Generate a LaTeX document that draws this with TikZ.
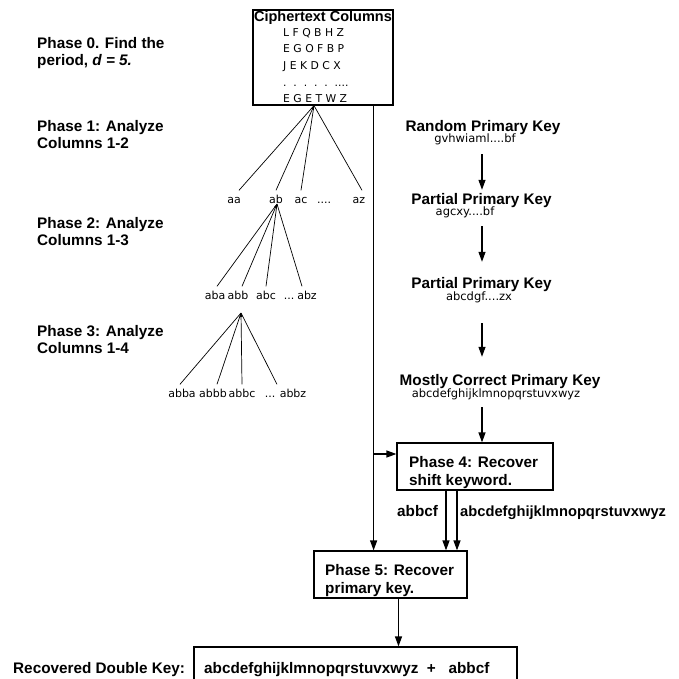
\documentclass[tikz,border=0pt]{standalone}
\usepackage{fontspec}
\setmainfont{Liberation Sans}
\newfontfamily\smfont{DejaVu Sans}
\usetikzlibrary{arrows.meta}
\begin{document}
\begin{tikzpicture}[x=1pt,y=-1pt,
  bt/.style={font=\fontsize{15.3}{18}\selectfont\bfseries, inner sep=0pt, text height=11pt, text depth=3pt},
  bttitle/.style={font=\fontsize{14.5}{17}\selectfont\bfseries, inner sep=0pt, text height=11pt, text depth=3pt},
  sm/.style={font=\smfont\fontsize{11.5}{14}\selectfont, inner sep=0pt, text height=9pt, text depth=3pt},
  cr/.style={font=\smfont\fontsize{10.8}{13}\selectfont, inner sep=0pt, anchor=base west},
  tr/.style={font=\smfont\fontsize{11}{13}\selectfont, inner sep=1.5pt, text height=11pt, text depth=2pt, anchor=base},
  box/.style={draw, line width=1.2pt, inner sep=0pt},
  arr/.style={line width=1.2pt, -{Triangle[length=10pt,width=7pt]}},
  tl/.style={line width=0.7pt},
  tip/.style={line width=0.7pt, -{Triangle[length=4pt,width=3pt]}}]

\useasboundingbox (0,0) rectangle (678,679);
\clip (0,0) rectangle (678,679);

% ciphertext box
\node[box, minimum width=140pt, minimum height=95pt] (cbox) at (323,57.5) {};
\node[bttitle, anchor=base] (ctitle) at (323,22) {Ciphertext Columns};
\node[cr] (row1) at (283,37) {L F Q B H Z};
\node[cr] (row2) at (283,53) {E G O F B P};
\node[cr] (row3) at (283,70) {J E K D C X};
\node[cr] (row4) at (283,87) {.\ \ .\ \ .\ \ .\ \ .\ \ ....};
\node[cr] (row5) at (283,103) {E G E T W Z};

% left phase labels
\node[bt, anchor=base west] (ph0a) at (37,49) {Phase 0. Find the};
\node[bt, anchor=base west] (ph0b) at (37,66) {period, \textit{d = 5.}};
\node[bt, anchor=base west] (ph1a) at (37,132) {Phase 1: Analyze};
\node[bt, anchor=base west] (ph1b) at (37,149) {Columns 1-2};
\node[bt, anchor=base west] (ph2a) at (37,228) {Phase 2: Analyze};
\node[bt, anchor=base west] (ph2b) at (37,245) {Columns 1-3};
\node[bt, anchor=base west] (ph3a) at (37,336) {Phase 3: Analyze};
\node[bt, anchor=base west] (ph3b) at (37,353) {Columns 1-4};

% tree level 1
\node[tr] (aa) at (234,203) {aa};
\node[tr] (ab) at (276,203) {ab};
\node[tr] (ac) at (301,203) {ac};
\node[tr] (dd1) at (324,203) {....};
\node[tr] (az) at (359,203) {az};
\coordinate (r0) at ([xshift=-9pt]cbox.south);
\draw[tl] ([xshift=5pt]aa.north) -- (r0);
\draw[tip] (ab.north) -- (r0);
\draw[tl] (ac.north) -- (r0);
\draw[tl] ([xshift=3pt]az.north) -- (r0);

% tree level 2
\node[tr] (aba) at (215,299) {aba};
\node[tr] (abb) at (238,299) {abb};
\node[tr] (abc) at (266,299) {abc};
\node[tr] (dd2) at (289,299) {...};
\node[tr] (abz) at (307,299) {abz};
\coordinate (r1) at ([xshift=1pt,yshift=-1pt]ab.base);
\draw[tl] ([xshift=2pt]aba.north) -- (r1);
\draw[tip] ([xshift=4pt]abb.north) -- (r1);
\draw[tl] (abc.north) -- (r1);
\draw[tl] ([xshift=-5pt]abz.north) -- (r1);

% tree level 3
\node[tr] (abba) at (182,397) {abba};
\node[tr] (abbb) at (213,397) {abbb};
\node[tr] (abbc) at (242,397) {abbc};
\node[tr] (dd3) at (270,397) {...};
\node[tr] (abbz) at (293,397) {abbz};
\coordinate (r2) at ([xshift=3pt,yshift=-14pt]abb.base);
\draw[tl] ([xshift=-2pt]abba.north) -- (r2);
\draw[tl] ([xshift=4pt]abbb.north) -- (r2);
\draw[tip] (abbc.north) -- (r2);
\draw[tl] ([xshift=-16pt]abbz.north) -- (r2);

% right column keys
\coordinate (colx) at (482,0);
\node[bt, anchor=base] (t1) at (483,132) {Random Primary Key};
\node[sm, anchor=base] (s1) at (475,143) {gvhwiaml....bf};
\node[bt, anchor=base] (t2) at (481.5,204) {Partial Primary Key};
\node[sm, anchor=base] (s2) at (465,215) {agcxy....bf};
\node[bt, anchor=base] (t3) at (481.5,288) {Partial Primary Key};
\node[sm, anchor=base] (s3) at (479,300) {abcdgf....zx};
\node[bt, anchor=base] (t4) at (500,385) {Mostly Correct Primary Key};
\node[sm, anchor=base] (s4) at (496,397) {abcdefghijklmnopqrstuvxwyz};

% phase 4 and 5 boxes
\node[box, minimum width=156pt, minimum height=47pt] (p4) at (475,466.5) {};
\node[bt, anchor=base west] (p4a) at (409,467) {Phase 4: Recover};
\node[bt, anchor=base west] (p4b) at (409,485) {shift keyword.};
\node[box, minimum width=153pt, minimum height=47pt] (p5) at (390.5,574.5) {};
\node[bt, anchor=base west] (p5a) at (325,575) {Phase 5: Recover};
\node[bt, anchor=base west] (p5b) at (325,593) {primary key.};

\node[bt, anchor=base west] (lab1) at (397,516) {abbcf};
\node[bt, anchor=base west, font=\fontsize{14.7}{18}\selectfont\bfseries] (lab2) at (460,516) {abcdefghijklmnopqrstuvxwyz};

% final
\node[bt, anchor=base west] (rdk) at (13,673) {Recovered Double Key:};
\node[box, minimum width=323pt, minimum height=44pt] (fin) at (355.5,669) {};
\node[bt, anchor=base west] (fintext) at (204,673) {abcdefghijklmnopqrstuvxwyz\ \ +\ \ \ abbcf};

% arrows in right column
\draw[arr] ([yshift=-8pt]s1.south -| colx) -- ([yshift=3pt]t2.north -| colx);
\draw[arr] ([yshift=-8pt]s2.south -| colx) -- ([yshift=15pt]t3.north -| colx);
\draw[arr] ([yshift=-20pt]s3.south -| colx) -- ([yshift=17pt]t4.north -| colx);
\draw[arr] ([yshift=-7pt]s4.south -| colx) -- (p4.north -| colx);

% long line from ciphertext box
\coordinate (vtop) at ([xshift=-20pt]cbox.south east);
\coordinate (br) at (373,454);
\draw[arr] (vtop) -- (vtop |- p5.north);
\draw[arr] (br) -- (br -| p4.west);

% phase 4 to phase 5
\coordinate (a1) at ([xshift=-29pt]p4.south);
\coordinate (a2) at ([xshift=-18pt]p4.south);
\draw[arr] (a1) -- (a1 |- p5.north);
\draw[arr] (a2) -- (a2 |- p5.north);

% phase 5 to final
\coordinate (a3) at ([xshift=8pt]p5.south);
\draw[arr] (a3) -- (a3 |- fin.north);
\end{tikzpicture}
\end{document}
